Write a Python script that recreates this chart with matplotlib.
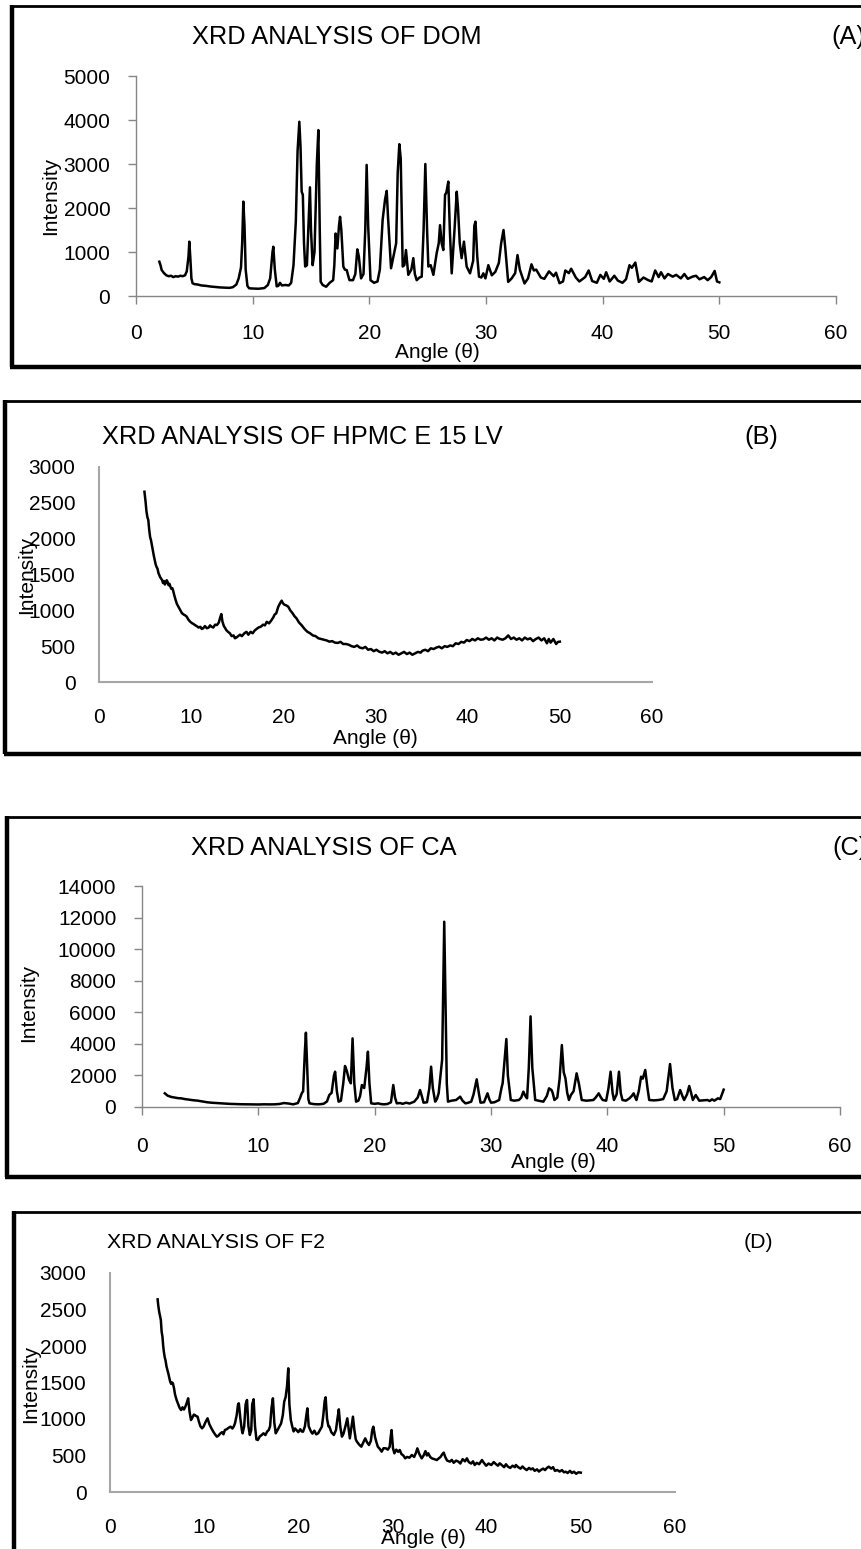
import matplotlib
matplotlib.use("Agg")
import matplotlib.pyplot as plt

plt.rcParams['font.family'] = ['Liberation Sans', 'DejaVu Sans']

# ---------------- data (angle 2θ, intensity) ----------------
dom_points = [
    [2.0, 780], [2.1, 700], [2.2, 590], [2.4, 520], [2.6, 470], [2.8, 450], [3.0, 460], [3.2, 430],
    [3.4, 450], [3.6, 440], [3.8, 460], [4.0, 450], [4.2, 470], [4.35, 560], [4.5, 900], [4.57, 1235],
    [4.65, 900], [4.75, 400], [4.85, 290], [5.0, 270], [5.3, 260], [5.6, 240], [6.0, 230], [6.4, 215],
    [6.8, 205], [7.2, 195], [7.6, 190], [8.0, 185], [8.3, 200], [8.6, 260], [8.8, 400], [9.0, 650],
    [9.1, 1200], [9.2, 2145], [9.3, 1600], [9.4, 600], [9.55, 230], [9.7, 175], [10.0, 170], [10.5, 165],
    [11.0, 180], [11.3, 250], [11.5, 400], [11.7, 1000], [11.77, 1120], [11.9, 600], [12.06, 220],
    [12.2, 230], [12.34, 300], [12.5, 240], [12.8, 250], [13.1, 240], [13.3, 300], [13.5, 700],
    [13.7, 1700], [13.85, 3300], [14.0, 3960], [14.1, 3400], [14.2, 2370], [14.3, 2300], [14.4, 1200],
    [14.5, 670], [14.65, 700], [14.8, 1700], [14.91, 2470], [15.0, 1500], [15.14, 700], [15.3, 1000],
    [15.5, 3000], [15.63, 3770], [15.75, 1500], [15.83, 325], [16.0, 250], [16.3, 210], [16.6, 300],
    [16.9, 360], [17.0, 700], [17.11, 1420], [17.26, 1080], [17.4, 1600], [17.49, 1800], [17.6, 1500],
    [17.77, 670], [17.9, 600], [18.06, 590], [18.2, 450], [18.3, 360], [18.6, 360], [18.8, 500],
    [18.97, 1060], [19.1, 900], [19.29, 400], [19.5, 500], [19.65, 1500], [19.77, 2980], [19.9, 1600],
    [20.1, 360], [20.4, 300], [20.7, 330], [20.9, 600], [21.14, 1730], [21.35, 2200], [21.49, 2390],
    [21.6, 1800], [21.86, 630], [22.06, 890], [22.3, 1200], [22.43, 2790], [22.57, 3450], [22.69, 3130],
    [22.86, 670], [23.0, 700], [23.14, 1045], [23.34, 480], [23.6, 600], [23.77, 860], [23.9, 500],
    [24.06, 360], [24.3, 420], [24.49, 440], [24.65, 1500], [24.8, 3000], [24.95, 1500], [25.06, 670],
    [25.26, 700], [25.49, 480], [25.77, 970], [25.95, 1200], [26.06, 1610], [26.2, 1200], [26.34, 1045],
    [26.49, 2300], [26.6, 2350], [26.77, 2600], [26.9, 1500], [27.06, 515], [27.3, 1500], [27.49, 2370],
    [27.6, 2000], [27.75, 1200], [27.91, 860], [28.11, 1235], [28.34, 670], [28.63, 515], [28.9, 800],
    [29.0, 1600], [29.1, 1690], [29.25, 900], [29.4, 440], [29.6, 420], [29.77, 515], [29.95, 400],
    [30.2, 700], [30.5, 470], [30.8, 550], [31.1, 750], [31.3, 1200], [31.5, 1500], [31.65, 1100],
    [31.9, 320], [32.2, 400], [32.5, 520], [32.7, 930], [32.9, 600], [33.3, 285], [33.6, 400],
    [33.9, 720], [34.1, 580], [34.3, 600], [34.7, 420], [35.0, 390], [35.4, 560], [35.8, 450],
    [36.0, 530], [36.3, 290], [36.6, 330], [36.8, 580], [37.1, 520], [37.3, 620], [37.7, 420],
    [38.0, 330], [38.5, 430], [38.8, 580], [39.1, 340], [39.5, 300], [39.8, 480], [40.1, 390],
    [40.3, 540], [40.6, 330], [41.0, 460], [41.3, 350], [41.7, 300], [42.0, 380], [42.3, 700],
    [42.5, 640], [42.8, 760], [43.1, 320], [43.5, 420], [43.9, 360], [44.2, 330], [44.5, 580],
    [44.8, 430], [45.0, 540], [45.3, 400], [45.6, 500], [46.0, 440], [46.3, 480], [46.7, 400],
    [47.0, 500], [47.3, 390], [47.7, 440], [48.0, 460], [48.3, 380], [48.7, 430], [49.0, 360],
    [49.3, 430], [49.6, 570], [49.8, 330], [50.0, 310],
]

hpmc_points = [
    [4.93, 2655], [5.05, 2520], [5.15, 2380], [5.25, 2300], [5.35, 2260], [5.45, 2120], [5.55, 2020],
    [5.64, 1980], [5.75, 1900], [5.85, 1820], [5.95, 1760], [6.05, 1700], [6.15, 1640], [6.24, 1608],
    [6.35, 1580], [6.45, 1520], [6.55, 1490], [6.65, 1460], [6.75, 1440], [6.84, 1423], [6.95, 1380],
    [7.05, 1410], [7.15, 1360], [7.25, 1390], [7.35, 1420], [7.43, 1400], [7.55, 1350], [7.65, 1370],
    [7.75, 1330], [7.85, 1300], [7.95, 1310], [8.03, 1283], [8.15, 1220], [8.3, 1150], [8.45, 1090],
    [8.62, 1050], [8.8, 1010], [9.0, 960], [9.2, 940], [9.35, 930], [9.52, 911], [9.7, 870], [9.9, 840],
    [10.1, 820], [10.25, 810], [10.4, 795], [10.6, 780], [10.8, 760], [11.0, 770], [11.15, 740],
    [11.3, 749], [11.5, 780], [11.7, 750], [11.9, 760], [12.05, 790], [12.2, 772], [12.4, 760],
    [12.6, 800], [12.8, 795], [13.0, 830], [13.15, 900], [13.27, 948], [13.4, 840], [13.55, 780],
    [13.7, 750], [13.8, 726], [14.0, 700], [14.2, 680], [14.4, 640], [14.6, 650], [14.75, 610],
    [14.9, 620], [15.1, 640], [15.3, 660], [15.5, 640], [15.77, 680], [16.0, 700], [16.2, 660],
    [16.45, 700], [16.67, 680], [16.9, 720], [17.1, 740], [17.3, 760], [17.56, 772], [17.8, 800],
    [18.0, 790], [18.2, 840], [18.45, 818], [18.7, 860], [18.9, 900], [19.05, 940], [19.23, 958],
    [19.45, 1050], [19.65, 1100], [19.82, 1135], [19.95, 1100], [20.1, 1080], [20.3, 1070],
    [20.54, 1050], [20.75, 1000], [21.0, 960], [21.2, 920], [21.43, 888], [21.7, 830], [22.0, 790],
    [22.3, 740], [22.6, 702], [22.9, 680], [23.2, 650], [23.5, 640], [23.8, 610], [24.1, 600],
    [24.4, 590], [24.7, 580], [25.0, 563], [25.3, 570], [25.6, 550], [25.9, 545], [26.2, 560],
    [26.5, 530], [26.8, 530], [27.1, 520], [27.4, 500], [27.7, 490], [28.0, 510], [28.3, 480],
    [28.6, 470], [28.9, 490], [29.2, 450], [29.5, 460], [29.8, 430], [30.1, 450], [30.4, 423],
    [30.7, 410], [31.0, 430], [31.3, 400], [31.6, 420], [31.9, 390], [32.2, 410], [32.5, 380],
    [32.8, 400], [33.1, 420], [33.4, 390], [33.7, 410], [34.0, 380], [34.3, 400], [34.6, 420],
    [34.9, 410], [35.1, 437], [35.4, 450], [35.7, 430], [36.0, 470], [36.3, 460], [36.6, 480],
    [36.9, 493], [37.2, 470], [37.5, 500], [37.8, 490], [38.1, 510], [38.4, 500], [38.7, 540],
    [39.0, 530], [39.3, 560], [39.6, 550], [39.9, 586], [40.2, 570], [40.5, 600], [40.8, 580],
    [41.1, 610], [41.4, 590], [41.7, 595], [42.0, 620], [42.3, 590], [42.6, 610], [42.9, 580],
    [43.2, 620], [43.5, 600], [43.8, 590], [44.1, 610], [44.4, 650], [44.7, 600], [45.0, 620],
    [45.3, 590], [45.6, 610], [45.9, 580], [46.2, 620], [46.5, 595], [46.8, 610], [47.1, 570],
    [47.4, 600], [47.7, 620], [48.0, 580], [48.3, 610], [48.6, 540], [48.8, 600], [49.0, 550],
    [49.3, 600], [49.6, 530], [49.8, 560], [50.0, 563],
]

ca_points = [
    [1.96, 866], [2.2, 720], [2.5, 640], [2.8, 600], [3.1, 560], [3.37, 549], [3.7, 500], [4.0, 470],
    [4.4, 430], [4.79, 401], [5.2, 350], [5.6, 300], [6.0, 270], [6.4, 250], [6.68, 232], [7.0, 220],
    [7.5, 200], [8.0, 185], [8.5, 175], [9.04, 169], [9.5, 165], [10.0, 160], [10.5, 170], [11.0, 165],
    [11.4, 169], [11.8, 190], [12.2, 250], [12.6, 220], [13.0, 169], [13.4, 250], [13.6, 600],
    [13.73, 866], [13.85, 1000], [14.0, 3500], [14.09, 4706], [14.2, 2500], [14.3, 500], [14.4, 232],
    [14.8, 180], [15.2, 170], [15.6, 200], [15.9, 350], [16.1, 760], [16.3, 900], [16.5, 2000],
    [16.6, 2237], [16.75, 1000], [16.9, 338], [17.1, 400], [17.3, 1500], [17.45, 2596], [17.6, 2300],
    [17.8, 1710], [17.95, 1500], [18.1, 4347], [18.25, 1500], [18.4, 338], [18.6, 400], [18.75, 700],
    [18.9, 1393], [19.1, 1200], [19.3, 2500], [19.42, 3503], [19.55, 1500], [19.7, 232], [20.0, 200],
    [20.3, 232], [20.5, 190], [20.8, 169], [21.1, 190], [21.4, 300], [21.6, 1393], [21.75, 600],
    [21.9, 232], [22.2, 250], [22.4, 200], [22.7, 274], [23.0, 220], [23.4, 338], [23.7, 600],
    [23.9, 1076], [24.05, 700], [24.2, 274], [24.5, 300], [24.7, 1200], [24.85, 2554], [25.0, 1200],
    [25.2, 338], [25.35, 500], [25.5, 866], [25.8, 3000], [25.98, 11736], [26.1, 6000], [26.2, 1500],
    [26.3, 338], [26.6, 400], [27.0, 443], [27.2, 560], [27.35, 654], [27.55, 400], [27.8, 232],
    [28.0, 260], [28.3, 338], [28.5, 800], [28.77, 1752], [28.95, 900], [29.1, 274], [29.4, 300],
    [29.7, 866], [29.85, 500], [30.0, 274], [30.3, 300], [30.7, 443], [30.9, 1200], [31.0, 1500],
    [31.15, 2800], [31.32, 4305], [31.45, 2000], [31.7, 443], [32.0, 400], [32.4, 443], [32.6, 600],
    [32.78, 971], [32.95, 700], [33.1, 549], [33.25, 2500], [33.4, 5741], [33.55, 2500], [33.8, 443],
    [34.1, 400], [34.5, 338], [34.8, 700], [34.99, 1182], [35.2, 1076], [35.3, 900], [35.45, 443],
    [35.7, 600], [35.9, 1800], [36.09, 3925], [36.25, 2200], [36.4, 1816], [36.55, 900], [36.7, 443],
    [36.87, 760], [37.1, 1000], [37.36, 2132], [37.55, 1500], [37.8, 443], [38.2, 400], [38.5, 420],
    [38.8, 443], [39.0, 600], [39.26, 866], [39.45, 600], [39.6, 443], [39.9, 400], [40.1, 1200],
    [40.28, 2237], [40.45, 900], [40.57, 443], [40.8, 800], [41.0, 2237], [41.15, 900], [41.3, 443],
    [41.6, 400], [41.9, 549], [42.1, 700], [42.26, 866], [42.4, 600], [42.5, 443], [42.7, 1000],
    [42.9, 1921], [43.05, 1800], [43.26, 2343], [43.45, 1200], [43.6, 443], [44.0, 420], [44.4, 443],
    [44.8, 500], [45.1, 1000], [45.39, 2723], [45.6, 1200], [45.8, 443], [46.0, 500], [46.26, 1076],
    [46.45, 700], [46.6, 443], [46.85, 800], [47.04, 1330], [47.2, 900], [47.35, 443], [47.6, 760],
    [47.9, 401], [48.2, 420], [48.6, 443], [48.8, 380], [49.0, 485], [49.2, 400], [49.5, 549],
    [49.7, 500], [49.85, 800], [50.0, 1100],
]

f2_points = [
    [5.06, 2639], [5.12, 2560], [5.18, 2500], [5.22, 2470], [5.3, 2420], [5.4, 2356], [5.48, 2200],
    [5.57, 2128], [5.65, 2000], [5.72, 1920], [5.8, 1854], [5.9, 1800], [6.0, 1720], [6.1, 1671],
    [6.2, 1620], [6.3, 1560], [6.39, 1511], [6.5, 1480], [6.6, 1500], [6.68, 1488], [6.8, 1420],
    [6.9, 1340], [6.97, 1306], [7.1, 1250], [7.25, 1200], [7.4, 1150], [7.55, 1123], [7.7, 1160],
    [7.85, 1130], [8.0, 1168], [8.15, 1220], [8.3, 1283], [8.45, 1100], [8.6, 986], [8.75, 1020],
    [8.9, 1060], [9.0, 1055], [9.15, 1040], [9.3, 1032], [9.45, 960], [9.6, 900], [9.78, 872],
    [9.95, 900], [10.15, 960], [10.36, 1009], [10.55, 930], [10.77, 872], [10.95, 830], [11.15, 790],
    [11.35, 758], [11.5, 770], [11.7, 800], [11.9, 820], [12.05, 790], [12.2, 849], [12.4, 860],
    [12.6, 880], [12.8, 895], [13.0, 870], [13.15, 900], [13.27, 940], [13.45, 1050], [13.6, 1200],
    [13.68, 1215], [13.85, 1000], [14.0, 850], [14.08, 804], [14.25, 900], [14.4, 1200], [14.55, 1260],
    [14.7, 900], [14.85, 781], [15.0, 850], [15.1, 1200], [15.25, 1270], [15.4, 900], [15.55, 720],
    [15.7, 712], [15.9, 760], [16.1, 780], [16.3, 804], [16.5, 780], [16.7, 830], [16.86, 849],
    [17.0, 900], [17.15, 1150], [17.3, 1283], [17.45, 950], [17.6, 804], [17.8, 850], [18.0, 900],
    [18.17, 940], [18.35, 1050], [18.5, 1237], [18.65, 1300], [18.8, 1450], [18.93, 1694], [19.05, 1200],
    [19.2, 986], [19.35, 900], [19.5, 830], [19.65, 870], [19.8, 849], [20.0, 820], [20.2, 860],
    [20.35, 830], [20.5, 826], [20.7, 900], [20.85, 1050], [20.96, 1146], [21.1, 900], [21.35, 826],
    [21.5, 800], [21.7, 840], [21.9, 790], [22.1, 804], [22.3, 850], [22.5, 895], [22.65, 1050],
    [22.8, 1250], [22.9, 1297], [23.05, 1000], [23.2, 900], [23.3, 895], [23.5, 820], [23.77, 781],
    [24.0, 850], [24.15, 1000], [24.3, 1132], [24.45, 900], [24.63, 758], [24.8, 800], [25.0, 900],
    [25.2, 1009], [25.35, 850], [25.47, 735], [25.65, 900], [25.8, 1032], [25.95, 850], [26.1, 720],
    [26.22, 690], [26.45, 650], [26.69, 621], [26.9, 680], [27.1, 735], [27.3, 680], [27.5, 644],
    [27.7, 700], [27.85, 850], [27.97, 895], [28.15, 750], [28.3, 680], [28.44, 621], [28.65, 590],
    [28.85, 553], [29.05, 600], [29.3, 598], [29.5, 580], [29.7, 620], [29.8, 750], [29.9, 849],
    [30.05, 600], [30.2, 530], [30.4, 580], [30.6, 550], [30.77, 575], [30.95, 520], [31.15, 500],
    [31.35, 461], [31.55, 480], [31.8, 470], [32.05, 507], [32.3, 480], [32.5, 540], [32.64, 598],
    [32.85, 520], [33.1, 461], [33.3, 500], [33.5, 560], [33.65, 500], [33.8, 530], [34.0, 480],
    [34.2, 460], [34.45, 450], [34.7, 438], [34.9, 460], [35.1, 480], [35.3, 520], [35.44, 539],
    [35.6, 480], [35.8, 430], [36.1, 416], [36.3, 440], [36.5, 400], [36.75, 430], [37.0, 416],
    [37.2, 390], [37.45, 450], [37.7, 420], [37.9, 461], [38.1, 410], [38.35, 390], [38.55, 420],
    [38.73, 370], [38.95, 400], [39.2, 380], [39.5, 438], [39.7, 400], [39.95, 360], [40.2, 390],
    [40.5, 370], [40.75, 410], [41.0, 380], [41.2, 360], [41.38, 393], [41.6, 370], [41.85, 340],
    [42.05, 380], [42.26, 347], [42.5, 330], [42.75, 360], [43.0, 340], [43.1, 370], [43.35, 340],
    [43.6, 320], [43.8, 350], [44.0, 324], [44.25, 300], [44.5, 330], [44.7, 310], [44.9, 324],
    [45.1, 290], [45.35, 310], [45.55, 280], [45.74, 301], [46.0, 320], [46.2, 300], [46.4, 330],
    [46.6, 347], [46.85, 320], [47.05, 340], [47.25, 290], [47.5, 301], [47.75, 280], [48.0, 300],
    [48.2, 270], [48.4, 278], [48.6, 260], [48.85, 290], [49.05, 260], [49.26, 278], [49.5, 250],
    [49.75, 270], [50.0, 265],
]

titles = ["XRD ANALYSIS OF DOM", "XRD ANALYSIS OF HPMC E 15 LV", "XRD ANALYSIS OF CA", "XRD ANALYSIS OF F2"]
tags = ["(A)", "(B)", "(C)", "(D)"]
ymax_list = [5000, 3000, 14000, 3000]
ystep_list = [1000, 500, 2000, 500]
x_ticks = [0, 10, 20, 30, 40, 50, 60]

# ---------------- layout (pixels) ----------------
W, H = 861, 1549
fig = plt.figure(figsize=(W / 100, H / 100), dpi=100)


def fx(x):
    return x / W


def fy(y):
    return 1 - y / H


def add_ax(x0, x1, ytop, ybot):
    return fig.add_axes([x0 / W, 1 - ybot / H, (x1 - x0) / W, (ybot - ytop) / H])


panels = [
    dict(pts=dom_points, box=(136, 836, 76, 296), ticks=True,
         title=(192, 37, 18.3), tag=(831, 37), ylab=(51, 196), xlab=(437, 352),
         frame=(11.5, 6, 367, None), ypad=13, xpad=15),
    dict(pts=hpmc_points, box=(99, 652, 467, 682), ticks=False,
         title=(102, 437, 18.3), tag=(744, 437), ylab=(27, 575), xlab=(375, 738),
         frame=(5, 400.5, 754, None), ypad=17, xpad=19),
    dict(pts=ca_points, box=(142, 840, 886, 1107), ticks=True,
         title=(191, 848, 18.3), tag=(832, 848), ylab=(29, 1003), xlab=(553, 1163),
         frame=(6.5, 816.5, 1176.5, None), ypad=13, xpad=16),
    dict(pts=f2_points, box=(110, 675, 1273, 1492), ticks=False,
         title=(107, 1243, 15.3), tag=(744, 1243), ylab=(31, 1384), xlab=(423, 1539),
         frame=(13.5, 1212, None, None), ypad=17, xpad=19),
]

for i, p in enumerate(panels):
    ax = add_ax(*p["box"])
    xs = [a for a, b in p["pts"]]
    ys = [b for a, b in p["pts"]]
    ax.plot(xs, ys, color='black', lw=1.8, solid_joinstyle='round')
    ax.set_xlim(0, 60)
    ax.set_ylim(0, ymax_list[i])
    ax.set_xticks(x_ticks)
    ax.set_yticks(list(range(0, ymax_list[i] + 1, ystep_list[i])))
    for s in ['top', 'right']:
        ax.spines[s].set_visible(False)
    if p["ticks"]:
        col = '#868686'
        for s in ['left', 'bottom']:
            ax.spines[s].set_color(col)
            ax.spines[s].set_linewidth(1.0)
        ax.tick_params(direction='out', length=5.5, width=1.0, color=col, labelsize=15)
    else:
        col = '#a6a6a6'
        for s in ['left', 'bottom']:
            ax.spines[s].set_color(col)
            ax.spines[s].set_linewidth(1.5)
        ax.tick_params(length=0, labelsize=15)
    ax.tick_params(axis='y', pad=p["ypad"])
    ax.tick_params(axis='x', pad=p["xpad"])
    ax.patch.set_alpha(0)

    tx, ty, ts = p["title"]
    fig.text(fx(tx), fy(ty), titles[i], fontsize=ts, ha='left', va='center')
    gx, gy = p["tag"]
    fig.text(fx(gx), fy(gy), tags[i], fontsize=ts, ha='left', va='center')
    lx, ly = p["ylab"]
    fig.text(fx(lx), fy(ly), "Intensity", fontsize=15, rotation=90, ha='center', va='center')
    bx, by = p["xlab"]
    fig.text(fx(bx), fy(by), "Angle (θ)", fontsize=15, ha='center', va='center')

# ---------------- panel frames ----------------
ov = fig.add_axes([0, 0, 1, 1])
ov.set_xlim(0, W)
ov.set_ylim(H, 0)
ov.axis('off')
ov.patch.set_alpha(0)
for p in panels:
    lx, ytop, ybot, _ = p["frame"]
    ov.plot([lx - 2, W + 5], [ytop, ytop], color='black', lw=2.0, solid_capstyle='butt', clip_on=False)
    yb = ybot if ybot is not None else H + 5
    ov.plot([lx, lx], [ytop - 1, yb], color='black', lw=3.2, solid_capstyle='butt', clip_on=False)
    if ybot is not None:
        ov.plot([lx - 1.5, W + 5], [ybot, ybot], color='black', lw=3.2, solid_capstyle='butt', clip_on=False)

fig.savefig("out.png", dpi=100)
